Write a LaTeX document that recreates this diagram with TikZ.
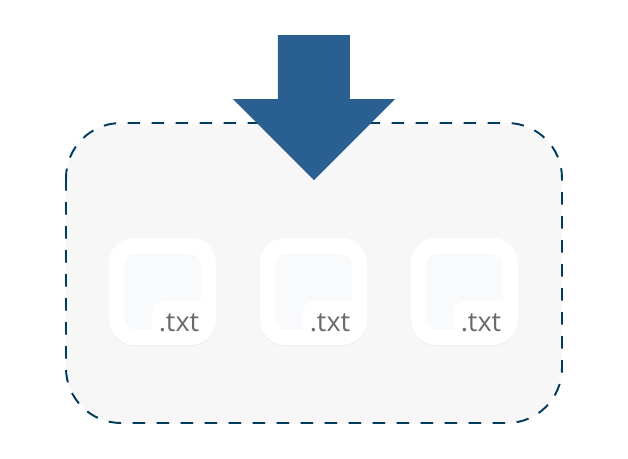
\documentclass[tikz,border=0pt]{standalone}
\usepackage{fontspec}
\setmainfont{Open Sans}
\usepackage{xcolor}
\usetikzlibrary{calc}
\definecolor{arrowblue}{HTML}{2A6091}
\definecolor{dashblue}{HTML}{003A5C}
\definecolor{boxgrey}{HTML}{F7F7F7}
\definecolor{innergrey}{HTML}{F9FAFC}
\definecolor{shadowgrey}{HTML}{EDEDED}
\definecolor{txtgrey}{HTML}{6B6B6B}
\tikzset{
  filetile/.style={fill=white, minimum size=1.07cm, rounded corners=.25cm, inner sep=0},
  fileshadow/.style={fill=shadowgrey, minimum size=1.07cm, rounded corners=.25cm, inner sep=0},
  fileinner/.style={fill=innergrey, minimum size=.77cm, rounded corners=.13cm, inner sep=0},
  filelabel/.style={text=txtgrey, font=\fontsize{7.7}{10}\selectfont, inner sep=0}
}

\begin{document}
\begin{tikzpicture}
\useasboundingbox (0,0) rectangle (6.28,-4.58);
\draw[fill=boxgrey, draw=dashblue, line width=.55pt, dash pattern=on .125cm off .115cm, rounded corners=.55cm] (.66,-1.23) rectangle (5.62,-4.23);
\foreach \n/\x in {a/1.625,b/3.135,c/4.645}{
    \node[fileshadow] (shadow\n) at (\x,-2.925) {};
    \node[filetile] (tile\n) at (\x,-2.915) {};
    \node[fileinner] (inner\n) at (tile\n) {};
    % tag over the lower right corner of the inner square
    \fill[white] ($(tile\n)+(-.105,-.40)$) [rounded corners=.11cm] -- ($(tile\n)+(-.105,-.095)$) [sharp corners] -- ($(tile\n)+(.40,-.095)$) -- ($(tile\n)+(.40,-.40)$) -- cycle;
    \node[filelabel] (label\n) at ($(tile\n)+(.165,-.31)$) {.txt};
}
\fill[arrowblue] (2.78,-.35) -- (3.5,-.35) -- (3.5,-.99) -- (3.95,-.99) -- (3.14,-1.8) -- (2.33,-.99) -- (2.78,-.99) -- cycle;
\end{tikzpicture}
\end{document}
